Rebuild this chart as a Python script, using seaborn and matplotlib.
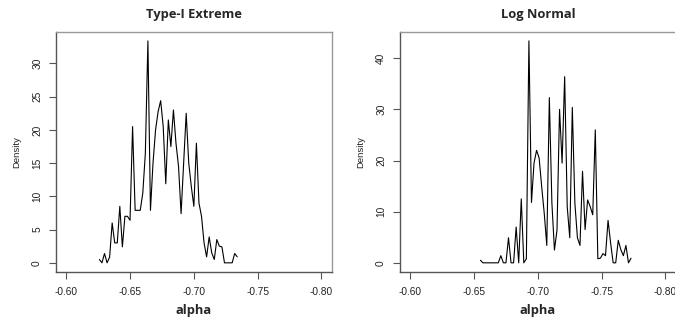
import numpy as np
import pandas as pd
import matplotlib
matplotlib.use("Agg")
import matplotlib.pyplot as plt
import seaborn as sns

# ---- data ----
alpha_gumbel = [-0.626, -0.628, -0.630, -0.632, -0.634, -0.636, -0.638, -0.640, -0.642, -0.644,
                -0.646, -0.648, -0.650, -0.652, -0.654, -0.656, -0.658, -0.660, -0.662, -0.664,
                -0.666, -0.668, -0.670, -0.672, -0.674, -0.676, -0.678, -0.680, -0.682, -0.684,
                -0.686, -0.688, -0.690, -0.692, -0.694, -0.696, -0.698, -0.700, -0.702, -0.704,
                -0.706, -0.708, -0.710, -0.712, -0.714, -0.716, -0.718, -0.720, -0.722, -0.724,
                -0.726, -0.728, -0.730, -0.732, -0.734]
dens_gumbel = [0.5, 0.0, 1.4, 0.0, 0.85, 6.0, 3.0, 3.0, 8.5, 2.4,
               7.0, 7.0, 6.4, 20.5, 7.9, 7.9, 7.9, 10.5, 16.5, 33.4,
               7.9, 15.0, 20.0, 22.75, 24.4, 20.5, 11.9, 21.5, 17.5, 23.0,
               18.0, 14.5, 7.4, 15.0, 22.5, 15.0, 11.5, 8.5, 18.0, 9.0,
               7.0, 3.0, 0.9, 3.9, 1.5, 0.5, 3.5, 2.5, 2.4, 0.0,
               0.0, 0.0, 0.0, 1.4, 0.9]

alpha_lognorm = [-0.655, -0.657, -0.659, -0.661, -0.663, -0.665, -0.667, -0.669, -0.671, -0.673,
                 -0.675, -0.677, -0.679, -0.681, -0.683, -0.685, -0.687, -0.689, -0.691, -0.693,
                 -0.695, -0.697, -0.699, -0.701, -0.703, -0.705, -0.707, -0.709, -0.711, -0.713,
                 -0.715, -0.717, -0.719, -0.721, -0.723, -0.725, -0.727, -0.729, -0.731, -0.733,
                 -0.735, -0.737, -0.739, -0.741, -0.743, -0.745, -0.747, -0.749, -0.751, -0.753,
                 -0.755, -0.757, -0.759, -0.761, -0.763, -0.765, -0.767, -0.769, -0.771, -0.773]
dens_lognorm = [0.5, 0.0, 0.0, 0.0, 0.0, 0.0, 0.0, 0.0, 1.4, 0.0,
                0.0, 4.9, 0.0, 0.0, 7.0, 0.0, 12.5, 0.0, 0.8, 43.4,
                11.8, 19.5, 22.0, 20.5, 14.9, 9.7, 3.4, 32.3, 11.7, 2.5,
                6.4, 30.0, 19.5, 36.4, 11.0, 4.9, 30.4, 11.7, 4.9, 3.4,
                17.9, 6.5, 12.3, 11.0, 9.4, 26.0, 0.8, 0.9, 1.8, 1.4,
                8.3, 3.9, 0.0, 0.0, 4.4, 2.6, 1.4, 3.4, 0.0, 0.9]

titles = ["Type-I Extreme", "Log Normal"]
x_ticks = [-0.60, -0.65, -0.70, -0.75, -0.80]
y_ticks_list = [[0, 5, 10, 15, 20, 25, 30], [0, 10, 20, 30, 40]]

sns.set_style("white")
plt.rcParams['font.family'] = ['Liberation Sans', 'DejaVu Sans']

fig = plt.figure(figsize=(6.75, 3.22), dpi=100)
positions = [[56/675, 1-271.7/322, 275.7/675, 239.7/322],
             [400/675, 1-271.7/322, 275.7/675, 239.7/322]]

datasets = [(alpha_gumbel, dens_gumbel), (alpha_lognorm, dens_lognorm)]
for i, ((xa, ya), title, yt) in enumerate(zip(datasets, titles, y_ticks_list)):
    ax = fig.add_axes(positions[i])
    df = pd.DataFrame({"alpha": xa, "Density": ya})
    sns.lineplot(data=df, x="alpha", y="Density", ax=ax, color="black",
                 linewidth=0.8, sort=False, estimator=None)
    ax.set_xlim(-0.592, -0.808)
    ymax = max(ya)
    ax.set_ylim(-0.04 * ymax, ymax * 1.04)
    ax.set_xticks(x_ticks)
    ax.set_xticklabels([f"{v:.2f}" for v in x_ticks], fontsize=7.3, color="#222222")
    ax.set_yticks(yt)
    ax.set_yticklabels([str(v) for v in yt], fontsize=7.3, color="#222222",
                       rotation=90, va="center")
    ax.tick_params(axis="both", direction="out", length=5, width=0.8,
                   color="#555555", left=True, bottom=True)
    ax.tick_params(axis="x", pad=6)
    ax.tick_params(axis="y", pad=5)
    for s in ["top", "right"]:
        ax.spines[s].set_color("#999999")
        ax.spines[s].set_linewidth(1.0)
    for s in ["left", "bottom"]:
        ax.spines[s].set_color("#555555")
        ax.spines[s].set_linewidth(1.0)
    ax.set_title(title, fontsize=9.3, fontweight="bold", family=["Open Sans", "DejaVu Sans"],
                 pad=10)
    ax.set_xlabel("alpha", fontsize=9.3, fontweight="bold",
                  family=["Open Sans", "DejaVu Sans"], labelpad=5)
    ax.set_ylabel("Density", fontsize=6.8, labelpad=8, color="#222222")

fig.savefig("out.png", dpi=100)
